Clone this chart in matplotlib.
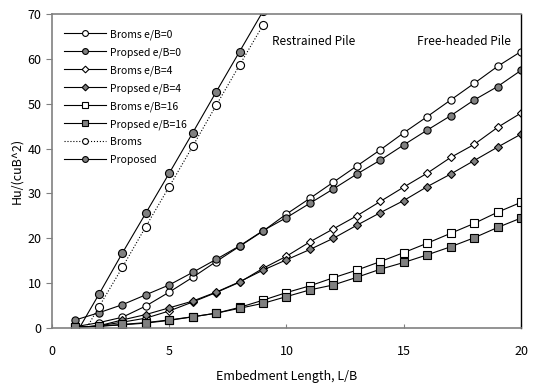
import matplotlib
matplotlib.use("Agg")
import matplotlib.pyplot as plt
from matplotlib.lines import Line2D
import numpy as np

plt.rcParams['font.family'] = ['Noto Sans CJK KR', 'DejaVu Sans']

L_free = list(range(1, 21))
broms_e0 = [0.3, 1.2, 2.4, 4.9, 8.0, 11.3, 14.8, 18.2, 21.6, 25.4,
            28.9, 32.5, 36.1, 39.7, 43.5, 47.1, 50.8, 54.5, 58.3, 61.6]
prop_e0 = [1.8, 3.4, 5.2, 7.4, 9.6, 12.4, 15.3, 18.3, 21.7, 24.6,
           27.8, 31.0, 34.3, 37.4, 40.8, 44.1, 47.3, 50.8, 53.8, 57.4]
broms_e4 = [0.1, 0.5, 1.3, 2.2, 3.8, 5.8, 7.9, 10.2, 13.3, 16.0,
            19.2, 22.1, 25.0, 28.2, 31.4, 34.5, 38.0, 40.9, 44.7, 47.9]
prop_e4 = [0.1, 0.5, 1.8, 3.0, 4.5, 6.0, 8.0, 10.3, 12.9, 15.2,
           17.5, 20.0, 22.9, 25.7, 28.4, 31.5, 34.3, 37.3, 40.3, 43.2]
broms_e16 = [0.2, 0.4, 0.7, 1.1, 1.7, 2.5, 3.3, 4.6, 6.2, 7.9,
             9.4, 11.2, 12.9, 14.8, 16.8, 18.9, 21.1, 23.3, 25.8, 28.0]
prop_e16 = [0.2, 0.4, 0.8, 1.2, 1.8, 2.5, 3.3, 4.4, 5.5, 7.0,
            8.5, 9.6, 11.3, 13.1, 14.6, 16.3, 18.1, 20.1, 22.4, 24.5]

L_restr = [1, 2, 3, 4, 5, 6, 7, 8, 9]
broms_restr = [-4.3, 4.7, 13.5, 22.6, 31.5, 40.5, 49.6, 58.6, 67.5]
prop_restr = [-1.5, 7.5, 16.7, 25.6, 34.5, 43.5, 52.6, 61.6, 70.6]

GRAY = '#808080'

fig = plt.figure(figsize=(5.36, 3.85), dpi=100)
ax = fig.add_axes([0.097, 0.148, 0.875, 0.816])

lw = 0.8
common = dict(color='black', lw=lw, markeredgecolor='black', markeredgewidth=0.8)
series = [
    (L_free, broms_e0, 'o', 5.2, 'white', '-', 'Broms e/B=0'),
    (L_free, prop_e0, 'o', 5.2, GRAY, '-', 'Propsed e/B=0'),
    (L_free, broms_e4, 'D', 4.2, 'white', '-', 'Broms e/B=4'),
    (L_free, prop_e4, 'D', 4.2, GRAY, '-', 'Propsed e/B=4'),
    (L_free, broms_e16, 's', 5.2, 'white', '-', 'Broms e/B=16'),
    (L_free, prop_e16, 's', 5.2, GRAY, '-', 'Propsed e/B=16'),
    (L_restr, broms_restr, 'o', 5.8, 'white', ':', 'Broms'),
    (L_restr, prop_restr, 'o', 5.8, GRAY, '-', 'Proposed'),
]
handles = []
for x, y, m, ms, fc, ls, lab in series:
    ax.plot(x, y, marker=m, ms=ms, markerfacecolor=fc, ls=ls, **common)
    lms = 3.4 if m == 'D' else 4.2
    handles.append(Line2D([], [], marker=m, ms=lms, markerfacecolor=fc, ls=ls,
                          label=lab, **common))

ax.set_xlim(0, 20)
ax.set_ylim(0, 70)
ax.set_xticks([0, 5, 10, 15, 20])
ax.set_yticks(range(0, 71, 10))
ax.tick_params(axis='x', direction='in', length=3, colors=GRAY, labelcolor='black', labelsize=9, pad=12)
ax.tick_params(axis='y', direction='out', length=4, colors=GRAY, labelcolor='black', labelsize=9)
for s in ['left', 'bottom', 'top']:
    ax.spines[s].set_color(GRAY)
    ax.spines[s].set_linewidth(1.2)
ax.spines['right'].set_color('black')
ax.spines['right'].set_linewidth(1.0)

ax.set_xlabel('Embedment Length, L/B', fontsize=9, labelpad=9)
ax.set_ylabel('Hu/(cuB^2)', fontsize=9, labelpad=3)

ax.text(9.38, 63.8, 'Restrained Pile', fontsize=8.5, ha='left', va='center')
ax.text(19.56, 63.8, 'Free-headed Pile', fontsize=8.5, ha='right', va='center')

ax.legend(handles=handles, loc='upper left', frameon=False, fontsize=7.5, handlelength=4.0,
          labelspacing=0.72, handletextpad=0.4,
          bbox_to_anchor=(0.01, 0.975), borderaxespad=0.3)

fig.savefig('out.png', dpi=100)
